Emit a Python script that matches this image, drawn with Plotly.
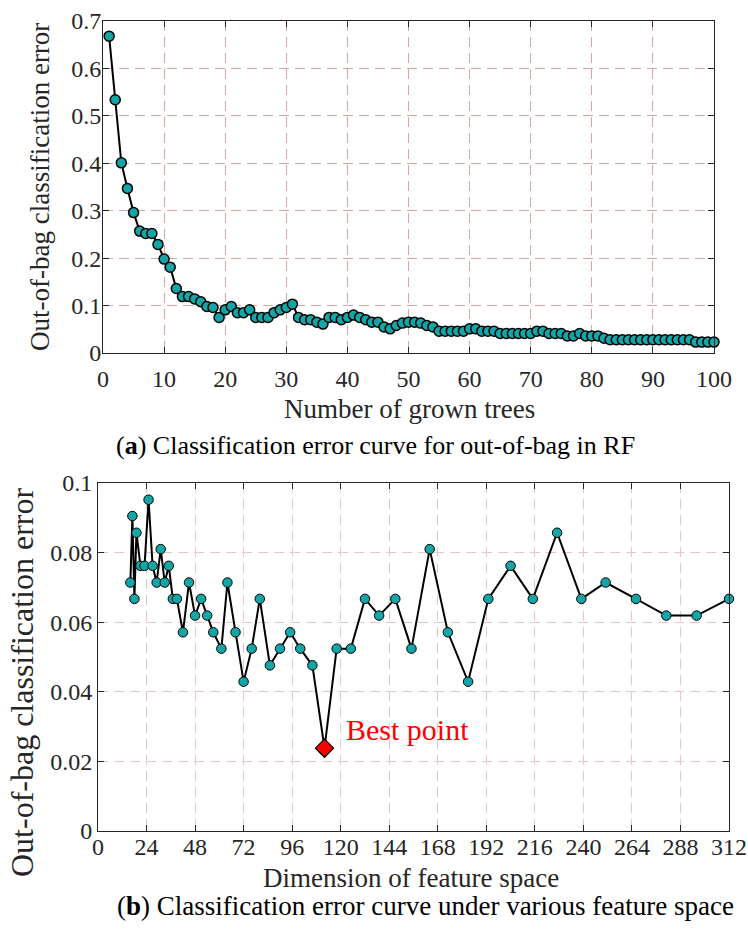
import plotly.graph_objects as go

# ---------------- data ----------------
trees = list(range(1, 101))
oob_err_trees = [
    0.668, 0.534, 0.401, 0.347, 0.296, 0.257, 0.252, 0.252, 0.229, 0.198,
    0.181, 0.136, 0.119, 0.119, 0.114, 0.108, 0.098, 0.096, 0.075, 0.091,
    0.098, 0.085, 0.085, 0.091, 0.075, 0.075, 0.075, 0.085, 0.091, 0.096,
    0.103, 0.075, 0.070, 0.070, 0.065, 0.061, 0.075, 0.075, 0.070, 0.075,
    0.080, 0.075, 0.070, 0.065, 0.065, 0.055, 0.051, 0.058, 0.063, 0.065,
    0.065, 0.063, 0.058, 0.055, 0.046, 0.046, 0.046, 0.046, 0.046, 0.051,
    0.051, 0.046, 0.046, 0.046, 0.041, 0.041, 0.041, 0.041, 0.041, 0.041,
    0.046, 0.046, 0.041, 0.041, 0.041, 0.036, 0.036, 0.041, 0.036, 0.036,
    0.036, 0.031, 0.028, 0.028, 0.028, 0.028, 0.028, 0.028, 0.028, 0.028,
    0.028, 0.028, 0.028, 0.028, 0.028, 0.028, 0.023, 0.023, 0.023, 0.023,
]

feat_dim = [16, 17, 18, 19, 21, 23, 25, 27, 29, 31, 33, 35, 37, 39, 42, 45, 48,
            51, 54, 57, 61, 64, 68, 72, 76, 80, 85, 90, 95, 100, 106, 112, 118,
            125, 132, 139, 147, 155, 164, 173, 183, 193, 204, 215, 227, 239,
            251, 266, 281, 296, 312]
oob_err_feat = [0.0714, 0.0905, 0.0667, 0.0857, 0.0762, 0.0762, 0.0952, 0.0762,
                0.0714, 0.0810, 0.0714, 0.0762, 0.0667, 0.0667, 0.0571, 0.0714,
                0.0619, 0.0667, 0.0619, 0.0571, 0.0524, 0.0714, 0.0571, 0.0429,
                0.0524, 0.0667, 0.0476, 0.0524, 0.0571, 0.0524, 0.0476, 0.0238,
                0.0524, 0.0524, 0.0667, 0.0619, 0.0667, 0.0524, 0.0810, 0.0571,
                0.0429, 0.0667, 0.0762, 0.0667, 0.0857, 0.0667, 0.0714, 0.0667,
                0.0619, 0.0619, 0.0667]
best_idx = oob_err_feat.index(min(oob_err_feat))

top_xticks = list(range(0, 101, 10))
top_yticks = [0, 0.1, 0.2, 0.3, 0.4, 0.5, 0.6, 0.7]
bot_xticks = list(range(0, 313, 24))
bot_yticks = [0, 0.02, 0.04, 0.06, 0.08, 0.1]

# ---------------- figure ----------------
W, H = 748, 939
SERIF = "Liberation Serif"
TEAL = "#14A6A6"

fig = go.Figure()

fig.add_trace(go.Scatter(
    x=trees, y=oob_err_trees, mode="lines+markers",
    line=dict(color="black", width=2),
    marker=dict(size=10, color=TEAL, line=dict(color="black", width=1.5)),
    cliponaxis=False, xaxis="x", yaxis="y", showlegend=False))

fig.add_trace(go.Scatter(
    x=feat_dim, y=oob_err_feat, mode="lines+markers",
    line=dict(color="black", width=2),
    marker=dict(size=9.5, color=TEAL, line=dict(color="black", width=1)),
    cliponaxis=False, xaxis="x2", yaxis="y2", showlegend=False))

fig.add_trace(go.Scatter(
    x=[feat_dim[best_idx]], y=[oob_err_feat[best_idx]], mode="markers",
    marker=dict(symbol="diamond", size=14, color="#FF0000",
                line=dict(color="black", width=1.2)),
    cliponaxis=False, xaxis="x2", yaxis="y2", showlegend=False))

def px_x(v):
    return v / W

def px_y(v):
    return 1 - v / H

axis_common = dict(
    showline=True, linecolor="#262626", linewidth=1, mirror="allticks",
    ticks="inside", ticklen=6, tickcolor="#262626", tickwidth=1,
    showgrid=True, griddash="10px,6px", zeroline=False, automargin=False,
    tickfont=dict(family=SERIF, size=24, color="#262626"),
)

fig.update_layout(
    width=W, height=H, margin=dict(l=0, r=0, t=0, b=0, autoexpand=False),
    paper_bgcolor="white", plot_bgcolor="white",
    font=dict(family=SERIF, color="#262626"),
    xaxis=dict(domain=[px_x(103), px_x(714)], range=[0, 100], tickvals=top_xticks,
               anchor="y", gridcolor="#DBA5A5", ticklabelstandoff=4, **axis_common),
    yaxis=dict(domain=[px_y(353), px_y(21)], range=[0, 0.7], tickvals=top_yticks,
               anchor="x", gridcolor="#DBA5A5", ticklabelstandoff=-4, **axis_common),
    xaxis2=dict(domain=[px_x(98), px_x(729)], range=[0, 312], tickvals=bot_xticks,
                anchor="y2", gridcolor="#E8C6C6", ticklabelstandoff=-6, **axis_common),
    yaxis2=dict(domain=[px_y(831), px_y(483)], range=[0, 0.1], tickvals=bot_yticks,
                anchor="x2", gridcolor="#E8C6C6", ticklabelstandoff=0, **axis_common),
)

def note(text, x, y, size, family=SERIF, angle=0, color="#262626", **kw):
    fig.add_annotation(text=text, x=x, y=y, xref="paper", yref="paper",
                       showarrow=False, textangle=angle,
                       font=dict(family=family, size=size, color=color),
                       xanchor="center", yanchor="middle", **kw)

note("Out-of-bag classification error", px_x(40), px_y(187), 27, angle=-90)
note("Number of grown trees", px_x(409), px_y(409), 27)
note("(<b>a</b>) Classification error curve for out-of-bag in RF",
     px_x(375), px_y(445), 26, color="black")

note("Out-of-bag classification error", px_x(22), px_y(682), 32, angle=-90)
note("Dimension of feature space", px_x(411), px_y(878), 27)
note("(<b>b</b>) Classification error curve under various feature space",
     px_x(425), px_y(906), 27, color="black")

fig.add_annotation(text="Best point", x=121.5, y=0.0293, xref="x2", yref="y2",
                   showarrow=False, xanchor="left", yanchor="middle",
                   font=dict(family=SERIF, size=30, color="#FF0000"))

fig.write_html("out.html")
